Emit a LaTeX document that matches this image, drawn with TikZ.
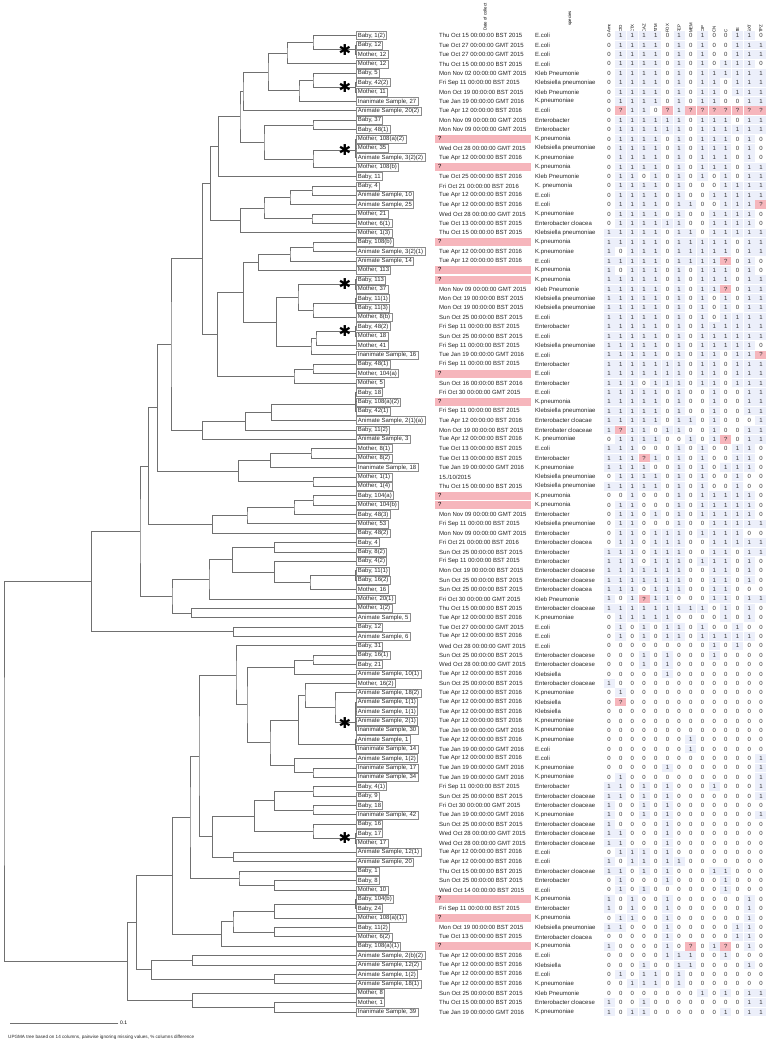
\documentclass[tikz,border=0pt]{standalone}
\usepackage{fontspec}
\setmainfont{Liberation Sans}
\newfontfamily\symfont{DejaVu Sans}
\usetikzlibrary{calc,positioning}

\definecolor{treegray}{RGB}{112,112,112}
\definecolor{boxgray}{RGB}{140,140,140}
\definecolor{cellblue}{RGB}{236,239,250}
\definecolor{cellpink}{RGB}{246,182,188}

\begin{document}
\begin{tikzpicture}[
  x=1bp,y=-1bp,
  font=\fontsize{6bp}{7bp}\selectfont,
  line cap=rect,
  branch/.style={draw=treegray,line width=0.75bp},
  leafbox/.style={draw=boxgray,line width=0.5bp,anchor=west,inner xsep=1.6bp,
    inner ysep=1.2bp,text height=4.4bp,text depth=1.2bp,text=black!85},
  datecell/.style={anchor=west,inner sep=0pt,text=black!85},
  datemiss/.style={anchor=west,fill=cellpink,text width=90bp,align=left,
    inner xsep=3bp,inner ysep=1.3bp,text height=4.4bp,text depth=1.2bp},
  speccell/.style={anchor=west,inner sep=0pt,text=black!85},
  cell/.style={minimum width=11bp,minimum height=8.6bp,inner sep=0pt,text=black!80},
  val 0/.style={},
  val 1/.style={fill=cellblue},
  val ?/.style={fill=cellpink},
  colhead/.style={rotate=90,anchor=west,inner sep=0pt,
    font=\fontsize{4.3bp}{5bp}\selectfont},
  asterisk/.style={inner sep=0pt,font=\symfont\fontsize{15bp}{15bp}\selectfont}
]
  \useasboundingbox (0,0) rectangle (783,1050);

  % Column headers.
  \node[colhead] (hdate) at (485,31) {Date of collect};
  \node[colhead] (hspec) at (570,26) {species};
  \foreach \h [count=\c] in {Amc,CfO,CTX,CAZ,ATM,FOX,FEP,MEM,CIP,CN,C,TE,SXT,TPZ}
    \node[colhead] (h\c) at ({597.31+\c*11.69},33) {\h};

  % Isolates: label, date, species, 14 resistance columns.
  \foreach \i/\lab/\dat/\spec/\vals in {
    1/{Baby, 1(2)}/{Thu Oct 15 00:00:00 BST 2015}/E.coli/{0,1,1,1,1,0,1,0,1,0,0,1,1,0},
    2/{Baby, 12}/{Tue Oct 27 00:00:00 GMT 2015}/E.coli/{0,1,1,1,1,0,1,0,1,0,0,1,1,1},
    3/{Mother, 12}/{Tue Oct 27 00:00:00 GMT 2015}/E.coli/{0,1,1,1,1,0,1,0,1,0,0,1,1,1},
    4/{Mother, 12}/{Thu Oct 15 00:00:00 BST 2015}/E.coli/{0,1,1,1,1,0,1,0,1,0,1,1,1,0},
    5/{Baby, 5}/{Mon Nov 02 00:00:00 GMT 2015}/Kleb Pneumonie/{0,1,1,1,1,0,1,0,1,1,1,1,1,1},
    6/{Baby, 42(2)}/{Fri Sep 11 00:00:00 BST 2015}/Klebsiella pneumoniae/{0,1,1,1,1,0,1,0,1,1,0,1,1,1},
    7/{Mother, 11}/{Mon Oct 19 00:00:00 BST 2015}/Kleb Pneumonie/{0,1,1,1,1,0,1,0,1,1,0,1,1,1},
    8/{Inanimate Sample, 27}/{Tue Jan 19 00:00:00 GMT 2016}/K.pneumoniae/{0,1,1,1,1,0,1,0,1,1,0,0,1,1},
    9/{Animate Sample, 20(2)}/{Tue Apr 12 00:00:00 BST 2016}/E.coli/{0,?,1,1,0,?,1,?,?,?,?,?,?,?},
    10/{Baby, 37}/{Mon Nov 09 00:00:00 GMT 2015}/Enterobacter/{0,1,1,1,1,1,1,0,1,1,1,0,1,1},
    11/{Baby, 48(1)}/{Mon Nov 09 00:00:00 GMT 2015}/Enterobacter/{0,1,1,1,1,1,1,0,1,1,1,1,1,1},
    12/{Mother, 108(a)(2)}/?/K.pneumonia/{0,1,1,1,1,0,1,0,1,1,1,0,1,0},
    13/{Mother, 35}/{Wed Oct 28 00:00:00 GMT 2015}/Klebsiella pneumoniae/{0,1,1,1,1,0,1,0,1,1,1,0,1,0},
    14/{Animate Sample, 3(2)(2)}/{Tue Apr 12 00:00:00 BST 2016}/K.pneumoniae/{0,1,1,1,1,0,1,0,1,1,1,0,1,0},
    15/{Mother, 108(b)}/?/K.pneumonia/{0,1,1,1,1,0,1,0,1,1,1,0,1,1},
    16/{Baby, 11}/{Tue Oct 25 00:00:00 BST 2016}/Kleb Pneumonie/{0,1,1,0,1,0,1,0,1,0,1,0,1,1},
    17/{Baby, 4}/{Fri Oct 21 00:00:00 BST 2016}/K. pneumonia/{0,1,1,1,1,0,1,0,0,0,1,1,1,1},
    18/{Animate Sample, 10}/{Tue Apr 12 00:00:00 BST 2016}/E.coli/{0,1,1,1,1,0,1,0,0,1,1,1,1,1},
    19/{Animate Sample, 25}/{Tue Apr 12 00:00:00 BST 2016}/E.coli/{0,1,1,1,1,0,1,1,0,0,1,1,1,?},
    20/{Mother, 21}/{Wed Oct 28 00:00:00 GMT 2015}/K.pneumoniae/{0,1,1,1,1,0,1,0,0,1,1,1,1,0},
    21/{Mother, 6(1)}/{Tue Oct 13 00:00:00 BST 2015}/Enterobacter cloacea/{0,1,1,1,1,1,1,0,0,1,1,1,1,0},
    22/{Mother, 1(3)}/{Thu Oct 15 00:00:00 BST 2015}/Klebsiella pneumoniae/{1,1,1,1,1,0,1,1,0,1,1,1,1,1},
    23/{Baby, 108(b)}/?/K.pneumonia/{1,1,1,1,1,0,1,1,1,1,1,0,1,1},
    24/{Animate Sample, 3(2)(1)}/{Tue Apr 12 00:00:00 BST 2016}/K.pneumoniae/{1,0,1,1,1,0,1,1,1,1,1,0,1,1},
    25/{Animate Sample, 14}/{Tue Apr 12 00:00:00 BST 2016}/E.coli/{1,1,1,1,1,0,1,1,1,1,?,0,1,0},
    26/{Mother, 113}/?/K.pneumonia/{1,0,1,1,1,0,1,0,1,1,1,0,1,0},
    27/{Baby, 113}/?/K.pneumonia/{1,1,1,1,1,0,1,0,1,1,1,0,1,1},
    28/{Mother, 37}/{Mon Nov 09 00:00:00 GMT 2015}/Kleb Pneumonie/{1,1,1,1,1,0,1,0,1,1,?,0,1,1},
    29/{Baby, 11(1)}/{Mon Oct 19 00:00:00 BST 2015}/Klebsiella pneumoniae/{1,1,1,1,1,0,1,0,1,0,1,0,1,1},
    30/{Baby, 11(3)}/{Mon Oct 19 00:00:00 BST 2015}/Klebsiella pneumoniae/{1,1,1,1,1,0,1,0,1,0,1,0,1,1},
    31/{Mother, 8(b)}/{Sun Oct 25 00:00:00 BST 2015}/E.coli/{1,1,1,1,1,0,1,0,1,0,1,1,1,1},
    32/{Baby, 48(2)}/{Fri Sep 11 00:00:00 BST 2015}/Enterobacter/{1,1,1,1,1,0,1,0,1,1,1,1,1,1},
    33/{Mother, 18}/{Sun Oct 25 00:00:00 BST 2015}/E.coli/{1,1,1,1,1,0,1,0,1,1,1,1,1,1},
    34/{Mother, 41}/{Fri Sep 11 00:00:00 BST 2015}/Klebsiella pneumoniae/{1,1,1,1,1,0,1,0,1,1,1,1,1,0},
    35/{Inanimate Sample, 16}/{Tue Jan 19 00:00:00 GMT 2016}/E.coli/{1,1,1,1,1,0,1,0,1,1,0,1,1,?},
    36/{Baby, 48(1)}/{Fri Sep 11 00:00:00 BST 2015}/Enterobacter/{1,1,1,1,1,1,1,0,1,1,0,1,1,1},
    37/{Mother, 104(a)}/?/E.coli/{1,1,1,1,1,1,1,0,1,1,0,1,1,1},
    38/{Mother, 5}/{Sun Oct 16 00:00:00 BST 2016}/Enterobacter/{1,1,1,0,1,1,1,0,1,1,0,1,1,1},
    39/{Baby, 18}/{Fri Oct 30 00:00:00 GMT 2015}/E.coli/{1,1,1,1,1,0,1,0,0,1,0,0,1,1},
    40/{Baby, 108(a)(2)}/?/K.pneumonia/{1,1,1,1,1,0,1,0,0,1,0,0,1,1},
    41/{Baby, 42(1)}/{Fri Sep 11 00:00:00 BST 2015}/Klebsiella pneumoniae/{1,1,1,1,1,0,1,0,0,1,0,0,1,1},
    42/{Animate Sample, 2(1)(a)}/{Tue Apr 12 00:00:00 BST 2016}/Enterobacter cloacae/{1,1,1,1,1,0,1,1,0,1,0,0,0,1},
    43/{Baby, 11(2)}/{Mon Oct 19 00:00:00 BST 2015}/Enterobater cloaceae/{1,?,1,1,0,1,1,0,0,1,0,0,1,1},
    44/{Animate Sample, 3}/{Tue Apr 12 00:00:00 BST 2016}/K. pneumoniae/{0,1,1,1,1,0,0,1,0,1,?,0,1,1},
    45/{Mother, 8(1)}/{Tue Oct 13 00:00:00 BST 2015}/E.coli/{1,1,1,0,0,0,1,0,1,0,0,1,1,0},
    46/{Mother, 8(2)}/{Tue Oct 13 00:00:00 BST 2015}/Enterobacter/{1,1,1,?,1,0,1,0,1,0,0,1,1,0},
    47/{Inanimate Sample, 18}/{Tue Jan 19 00:00:00 GMT 2016}/K.pneumoniae/{1,1,1,1,0,0,1,0,1,0,1,1,1,0},
    48/{Mother, 1(1)}/{15./10/2015}/Klebsiella pneumoniae/{0,1,1,1,1,0,1,0,1,0,0,1,0,0},
    49/{Mother, 1(4)}/{Thu Oct 15 00:00:00 BST 2015}/Klebsiella pneumoniae/{1,1,1,1,1,0,1,0,1,0,0,1,0,0},
    50/{Baby, 104(a)}/?/K.pneumonia/{0,0,1,0,0,0,1,0,1,1,1,1,1,0},
    51/{Mother, 104(b)}/?/K.pneumonia/{0,1,1,0,0,0,1,0,1,1,1,1,1,0},
    52/{Baby, 48(3)}/{Mon Nov 09 00:00:00 GMT 2015}/Enterobacter/{0,1,1,0,1,0,1,0,1,1,1,1,1,0},
    53/{Mother, 53}/{Fri Sep 11 00:00:00 BST 2015}/Klebsiella pneumoniae/{0,1,1,0,0,0,1,0,0,1,1,1,1,1},
    54/{Baby, 48(2)}/{Mon Nov 09 00:00:00 GMT 2015}/Enterobacter/{0,1,1,0,1,1,1,0,1,1,1,1,0,0},
    55/{Baby, 4}/{Fri Oct 21 00:00:00 BST 2016}/Enterobacter cloacea/{0,1,1,0,1,1,1,0,0,1,1,1,1,1},
    56/{Baby, 8(2)}/{Sun Oct 25 00:00:00 BST 2015}/Enterobacter/{1,1,1,0,1,1,1,0,0,1,1,0,1,1},
    57/{Baby, 4(2)}/{Fri Sep 11 00:00:00 BST 2015}/Enterobacter/{1,1,1,0,1,1,1,0,1,1,1,0,1,0},
    58/{Baby, 11(1)}/{Mon Oct 19 00:00:00 BST 2015}/Enterobacter cloacese/{1,1,1,1,1,1,1,0,0,1,1,0,1,0},
    59/{Baby, 16(2)}/{Sun Oct 25 00:00:00 BST 2015}/Enterobacter cloacese/{1,1,1,1,1,1,1,0,0,1,1,0,1,0},
    60/{Mother, 16}/{Sun Oct 25 00:00:00 BST 2015}/Enterobacter cloacea/{1,1,1,0,1,1,1,0,0,1,1,0,0,0},
    61/{Mother, 20(1)}/{Fri Oct 30 00:00:00 GMT 2015}/Kleb Pneumonie/{1,0,1,?,1,1,0,0,0,1,1,0,1,1},
    62/{Mother, 1(2)}/{Thu Oct 15 00:00:00 BST 2015}/Enterobacter cloaceae/{1,1,1,1,1,1,1,1,1,0,1,0,1,0},
    63/{Animate Sample, 5}/{Tue Apr 12 00:00:00 BST 2016}/K.pneumoniae/{0,1,1,1,1,1,0,0,0,0,1,0,1,0},
    64/{Baby, 12}/{Tue Oct 27 00:00:00 GMT 2015}/E.coli/{0,1,0,1,0,1,1,0,1,0,0,1,0,0},
    65/{Animate Sample, 6}/{Tue Apr 12 00:00:00 BST 2016}/E.coli/{0,1,0,1,0,1,1,0,1,1,1,1,1,0},
    66/{Baby, 31}/{Wed Oct 28 00:00:00 GMT 2015}/E.coli/{0,0,0,0,0,0,0,0,0,1,0,1,0,0},
    67/{Baby, 16(1)}/{Sun Oct 25 00:00:00 BST 2015}/Enterobacter cloacese/{0,0,0,1,0,1,0,0,0,1,0,0,0,0},
    68/{Baby, 21}/{Wed Oct 28 00:00:00 GMT 2015}/Enterobacter cloacese/{0,0,0,1,0,1,0,0,0,0,0,0,0,0},
    69/{Animate Sample, 10(1)}/{Tue Apr 12 00:00:00 BST 2016}/Klebsiella/{0,0,0,0,0,1,0,0,0,0,0,0,0,0},
    70/{Mother, 16(2)}/{Sun Oct 25 00:00:00 BST 2015}/Enterobacter cloaceae/{1,0,0,0,0,0,0,0,0,0,0,0,0,0},
    71/{Animate Sample, 18(2)}/{Tue Apr 12 00:00:00 BST 2016}/K.pneumoniae/{0,1,0,0,0,0,0,0,0,0,0,0,0,0},
    72/{Animate Sample, 1(1)}/{Tue Apr 12 00:00:00 BST 2016}/Klebsiella/{0,?,0,0,0,0,0,0,0,0,0,0,0,0},
    73/{Animate Sample, 1(1)}/{Tue Apr 12 00:00:00 BST 2016}/Klebsiella/{0,0,0,0,0,0,0,0,0,0,0,0,0,0},
    74/{Animate Sample, 2(1)}/{Tue Apr 12 00:00:00 BST 2016}/K.pneumoniae/{0,0,0,0,0,0,0,0,0,0,0,0,0,0},
    75/{Inanimate Sample, 30}/{Tue Jan 19 00:00:00 GMT 2016}/K.pneumoniae/{0,0,0,0,0,0,0,0,0,0,0,0,0,0},
    76/{Animate Sample, 1}/{Tue Apr 12 00:00:00 BST 2016}/K.pneumoniae/{0,0,0,0,0,0,0,1,0,0,0,0,0,0},
    77/{Inanimate Sample, 14}/{Tue Jan 19 00:00:00 GMT 2016}/E.coli/{0,0,0,0,0,0,0,1,0,0,0,0,0,0},
    78/{Animate Sample, 1(2)}/{Tue Apr 12 00:00:00 BST 2016}/E.coli/{0,0,0,0,0,0,0,0,0,0,0,0,0,1},
    79/{Inanimate Sample, 17}/{Tue Jan 19 00:00:00 GMT 2016}/K.pneumoniae/{0,0,0,0,0,1,0,0,0,0,0,0,0,1},
    80/{Inanimate Sample, 34}/{Tue Jan 19 00:00:00 GMT 2016}/K.pneumoniae/{0,1,0,0,0,0,0,0,0,0,0,0,0,1},
    81/{Baby, 4(1)}/{Fri Sep 11 00:00:00 BST 2015}/Enterobacter/{1,1,0,1,0,1,0,0,0,1,0,0,0,1},
    82/{Baby, 9}/{Sun Oct 25 00:00:00 BST 2015}/Enterobacter cloaceae/{1,1,0,1,0,1,0,0,0,0,0,0,0,1},
    83/{Baby, 18}/{Fri Oct 30 00:00:00 GMT 2015}/Enterobacter cloaceae/{1,0,0,1,0,1,0,0,0,0,0,0,0,0},
    84/{Inanimate Sample, 42}/{Tue Jan 19 00:00:00 GMT 2016}/K.pneumoniae/{1,0,0,1,0,1,0,0,0,0,0,0,0,1},
    85/{Baby, 16}/{Sun Oct 25 00:00:00 BST 2015}/Enterobacter cloaceae/{1,0,0,0,0,1,0,0,0,0,0,0,0,0},
    86/{Baby, 17}/{Wed Oct 28 00:00:00 GMT 2015}/Enterobacter cloaceae/{1,1,0,0,0,1,0,0,0,0,0,0,0,0},
    87/{Mother, 17}/{Wed Oct 28 00:00:00 GMT 2015}/Enterobacter cloaceae/{1,1,0,0,0,1,0,0,0,0,0,0,0,0},
    88/{Animate Sample, 12(1)}/{Tue Apr 12 00:00:00 BST 2016}/E.coli/{0,1,1,1,0,1,0,0,0,0,0,0,0,0},
    89/{Animate Sample, 20}/{Tue Apr 12 00:00:00 BST 2016}/E.coli/{1,0,1,1,0,1,1,0,0,0,0,0,0,0},
    90/{Baby, 1}/{Thu Oct 15 00:00:00 BST 2015}/Enterobacter cloaceae/{1,1,0,1,0,1,0,0,0,1,1,0,0,0},
    91/{Baby, 8}/{Sun Oct 25 00:00:00 BST 2015}/Enterobacter/{0,1,0,0,0,1,0,0,0,0,1,0,0,0},
    92/{Mother, 10}/{Wed Oct 14 00:00:00 BST 2015}/E.coli/{0,1,0,1,0,0,0,0,0,0,1,0,0,0},
    93/{Baby, 104(b)}/?/K.pneumonia/{1,0,1,0,0,1,0,0,0,0,0,0,1,0},
    94/{Baby, 24}/{Fri Sep 11 00:00:00 BST 2015}/Enterobacter/{1,0,1,0,0,1,0,0,0,0,0,0,1,0},
    95/{Mother, 108(a)(1)}/?/K.pneumonia/{0,1,1,0,0,1,0,0,0,0,0,0,1,0},
    96/{Baby, 11(2)}/{Mon Oct 19 00:00:00 BST 2015}/Klebsiella pneumoniae/{1,1,0,0,0,1,0,0,0,0,0,1,1,0},
    97/{Mother, 6(2)}/{Tue Oct 13 00:00:00 BST 2015}/Enterobacter cloacea/{0,0,0,0,0,1,0,0,0,0,0,1,1,0},
    98/{Baby, 108(a)(1)}/?/K.pneumonia/{1,0,0,0,0,1,0,?,0,1,?,0,1,0},
    99/{Animate Sample, 2(b)(2)}/{Tue Apr 12 00:00:00 BST 2016}/E.coli/{0,0,0,0,0,1,1,1,0,0,1,0,0,0},
    100/{Animate Sample, 12(2)}/{Tue Apr 12 00:00:00 BST 2016}/Klebsiella/{0,0,0,1,0,0,1,1,0,0,0,0,1,0},
    101/{Animate Sample, 1(2)}/{Tue Apr 12 00:00:00 BST 2016}/E.coli/{0,1,0,1,1,0,1,0,0,0,0,0,0,0},
    102/{Animate Sample, 18(1)}/{Tue Apr 12 00:00:00 BST 2016}/K.pneumoniae/{0,0,1,1,1,0,1,0,0,0,0,0,0,0},
    103/{Mother, 8}/{Sun Oct 25 00:00:00 BST 2015}/Kleb Pneumonie/{0,0,0,0,0,0,0,0,1,0,1,0,1,1},
    104/{Mother, 1}/{Thu Oct 15 00:00:00 BST 2015}/Enterobacter cloacese/{1,0,0,1,0,0,0,0,0,0,0,0,1,1},
    105/{Inanimate Sample, 39}/{Tue Jan 19 00:00:00 GMT 2016}/K.pneumoniae/{1,0,1,1,0,0,0,0,0,0,1,0,1,1}}{
    \pgfmathsetmacro\ry{35.7+(\i-1)*9.387}
    \node[leafbox] (b\i) at (356,\ry) {\lab};
    \coordinate (l\i) at (b\i.west);
    \if?\dat
      \node[datemiss] (d\i) at (435,\ry) {?};
    \else
      \node[datecell] (d\i) at (439,\ry) {\dat};
    \fi
    \node[speccell] (s\i) at (535,\ry) {\spec};
    \foreach \v [count=\c] in \vals
      \node[cell,val \v] (c\i-\c) at ({597.31+\c*11.69},\ry) {\v};
  }

  % UPGMA branches: name/height/upper child/lower child.
  \foreach \tn/\nx/\a/\b in {
    t1/355.5/l2/l3, t2/313/l1/t1, t3/287/t2/l4, t4/355.5/l6/l7,
    t5/313/l5/t4, t6/299/t5/l8, t7/268/t3/t6, t8/243/t7/l9,
    t9/313/l10/l11, t10/355.5/l12/l13, t11/355.5/t10/l14, t12/313/t11/l15,
    t13/264/t9/t12, t14/240/t8/t13, t15/218.3/t14/l16,
    t16/312/l17/l18, t17/290/t16/l19, t18/312/l20/l21, t19/264/t17/t18,
    t20/240.7/t19/l22, t21/210.7/t15/t20,
    t22/313/l23/l24, t23/290/t22/l25, t24/258.3/t23/l26,
    t25/355.5/l27/l28, t26/355.5/l29/l30, t27/313/t26/l31, t28/298/t25/t27,
    t29/355.5/l32/l33, t30/316/t29/l34, t31/311/t30/l35, t32/276.7/t28/t31,
    t33/243.7/t24/t32, t34/313/l36/l37, t35/294/t34/l38, t36/217.3/t33/t35,
    t37/202.3/t21/t36,
    t38/355.5/l39/l40, t39/355.5/t38/l41, t40/271.7/t39/l42, t41/245.7/t40/l43,
    t42/202.3/t41/l44, t43/171/t37/t42,
    t44/311/l45/l46, t45/270.7/t44/l47, t46/313/l48/l49, t47/238.7/t45/t46,
    t48/157.7/t43/t47,
    t49/313/l50/l51, t50/294/t49/l52, t51/247/t50/l53, t52/212.7/t51/l54,
    t53/148.3/t48/t52,
    t54/274.3/l55/l56, t55/355.5/l58/l59, t56/310/t55/l60, t57/274.3/l57/t56,
    t58/232.3/t54/t57, t59/209/t58/l61, t60/191.7/l62/l63, t61/172/t59/t60,
    t62/140/t53/t61, t63/233.3/l64/l65, t64/91.7/t62/t63,
    t65/313/l67/l68, t66/294.3/t65/l69,
    t67/355.5/l72/l73, t68/355.5/t67/l74, t69/355.5/t68/l75, t70/335/l71/t69,
    t71/305/l70/t70, t72/355.5/l76/l77, t73/298.3/t71/t72,
    t74/313/l79/l80, t75/294.3/l78/t74, t76/270/t73/t75,
    t77/247/t66/t76, t78/236/l66/t77,
    t79/313/l81/l82, t80/313/l83/l84, t81/274.3/t79/t80,
    t82/355.5/l86/l87, t83/313/l85/t82, t84/254.3/t81/t83,
    t85/233.3/l88/l89, t86/212.7/t84/t85, t87/199/t78/t86,
    t88/274.3/l91/l92, t89/239/l90/t88, t90/190/t87/t89,
    t91/355.5/l93/l94, t92/274.3/t91/l95, t93/274.3/l96/l97, t94/233/t92/t93,
    t95/221.7/t94/l98, t96/172.7/t90/t95,
    t97/192.3/l99/l100, t98/274.3/l101/l102, t99/151.7/t97/t98,
    t100/136.7/t96/t99,
    t101/274.3/l104/l105, t102/192.3/l103/t101, t103/127.7/t100/t102,
    root/4/t64/t103}{
    \path let \p1=($(\a)!.5!(\b)$) in coordinate (\tn) at (\nx bp,\y1);
    \draw[branch] (\a) -| (\tn) |- (\b);
  }

  % Mother-baby pairs with identical profiles.
  \foreach \sy [count=\k] in {49.8,87.3,150.5,284.5,331.4,723,838.5}
    \node[asterisk] (star\k) at (345,\sy) {✱};

  % Scale bar and note.
  \coordinate (bar0) at (10,1023);
  \coordinate (bar1) at (118,1023);
  \draw[branch] (bar0) -- (bar1);
  \node[right=2bp of bar1,inner sep=0pt,font=\fontsize{5bp}{6bp}\selectfont] (barlab) {0.1};
  \node[anchor=west,inner sep=0pt,text=black!85,font=\fontsize{4.6bp}{5.5bp}\selectfont] (note) at (8,1037)
    {UPGMA tree based on 14 columns, pairwise ignoring missing values, \% columns difference};
\end{tikzpicture}
\end{document}
